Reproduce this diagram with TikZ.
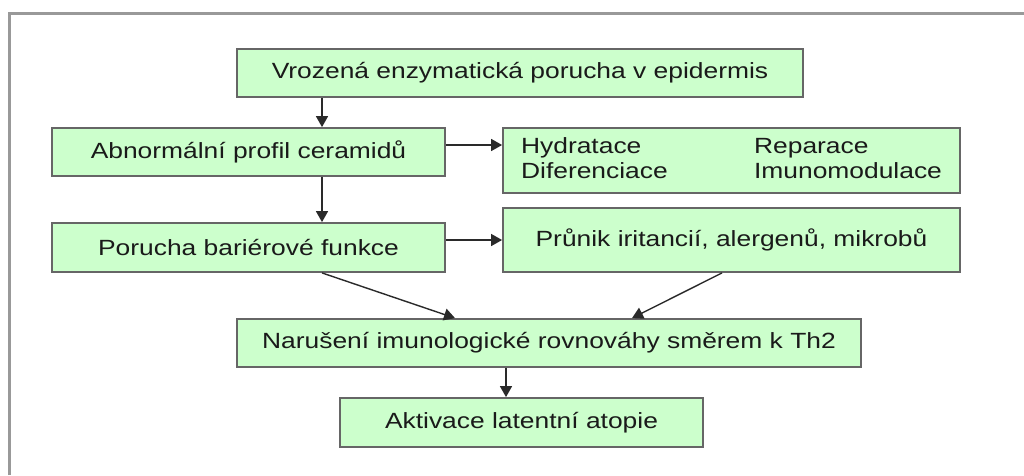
\documentclass[tikz,border=0pt]{standalone}
\usepackage{fontspec}
\setmainfont[FakeStretch=1.2]{Liberation Sans}
\usetikzlibrary{arrows.meta,calc}
\definecolor{boxfill}{HTML}{CCFFCC}
\definecolor{boxline}{HTML}{666666}
\definecolor{framecol}{HTML}{999999}
\definecolor{arrcol}{HTML}{2A2A2A}
\definecolor{txtcol}{HTML}{1A1A1A}
\begin{document}
\begin{tikzpicture}[x=1pt,y=-1pt,
  flowbox/.style={draw=boxline,line width=1.8pt,fill=boxfill,inner sep=0pt,
    text=txtcol,font=\fontsize{22}{25}\selectfont,align=center},
  conn/.style={draw=arrcol,line width=1.4pt,-{Triangle[length=11pt,width=12pt]}}]
\useasboundingbox (0,0) rectangle (1024,475);
\fill[white] (0,0) rectangle (1024,475);
\draw[framecol,line width=3pt] (9,475) -- (9,13) -- (1024,13);

\node[flowbox,minimum width=566pt,minimum height=48pt] (b1) at (520,73) {Vrozená enzymatická porucha v epidermis};
\node[flowbox,minimum width=393pt,minimum height=48pt] (b2) at (248.5,152) {Abnormální profil ceramidů};
\node[flowbox,minimum width=457pt,minimum height=65pt] (b3) at (731.5,160.5) {\renewcommand\arraystretch{1.0}\begin{tabular}{@{}p{233pt}@{}l@{}}Hydratace & Reparace\\ Diferenciace & Imunomodulace\end{tabular}};
\node[flowbox,minimum width=393pt,minimum height=49pt] (b4) at (248.5,247.5) {Porucha bariérové funkce};
\node[flowbox,minimum width=457pt,minimum height=64pt] (b5) at (731.5,240) {Průnik iritancií, alergenů, mikrobů};
\node[flowbox,minimum width=624pt,minimum height=48pt] (b6) at (549,343) {Narušení imunologické rovnováhy směrem k Th2};
\node[flowbox,minimum width=363pt,minimum height=49pt] (b7) at (521.5,422.5) {Aktivace latentní atopie};

\coordinate (cx) at (322,0);
\coordinate (cy) at (0,145);
\coordinate (ca) at (455,0);
\coordinate (cb) at (722,0);
\coordinate (cc) at (632,0);
\coordinate (cd) at (506,0);

\draw[conn] (b1.south -| cx) -- (b2.north -| cx);
\draw[conn] (b2.south -| cx) -- (b4.north -| cx);
\draw[conn] (b2.east |- cy) -- (b3.west |- cy);
\draw[conn] (b4.east |- b5.west) -- (b5.west);
\draw[conn] (b4.south -| cx) -- (b6.north -| ca);
\draw[conn] (b5.south -| cb) -- (b6.north -| cc);
\draw[conn] (b6.south -| cd) -- (b7.north -| cd);
\end{tikzpicture}
\end{document}
